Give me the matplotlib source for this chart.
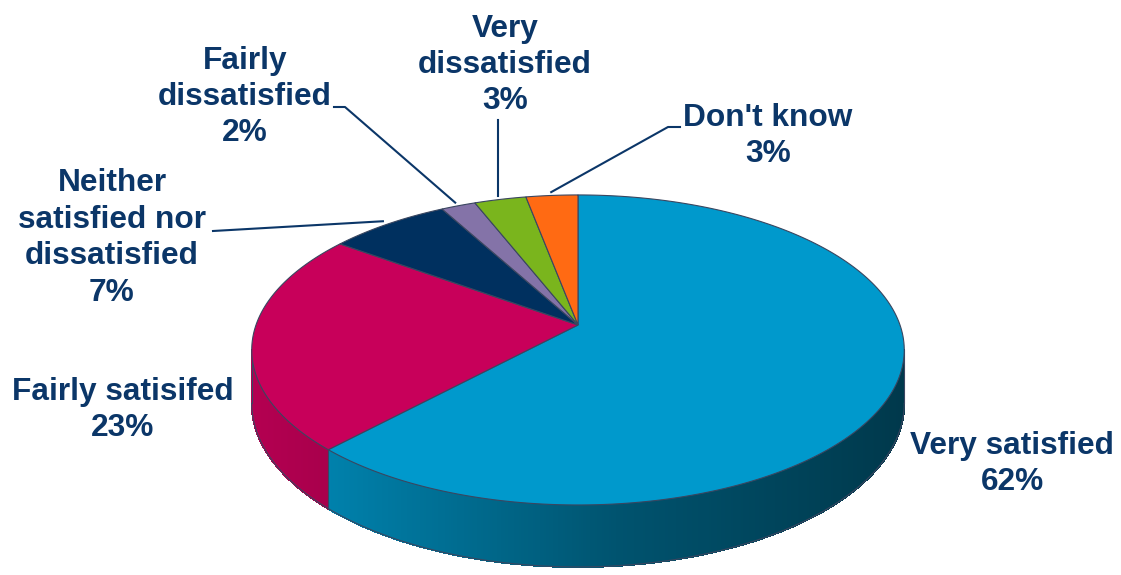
import numpy as np
import matplotlib.pyplot as plt
from matplotlib.patches import Polygon
from matplotlib.collections import PolyCollection
from matplotlib.colors import to_rgb

labels = ["Very satisfied", "Fairly satisifed", "Neither\nsatisfied nor\ndissatisfied",
          "Fairly\ndissatisfied", "Very\ndissatisfied", "Don't know"]
shares = [62, 23, 7, 2, 3, 3]
colors = ["#0099cc", "#c8005a", "#00305f", "#8473a8", "#7ab51d", "#ff6a13"]

# label block centres and the point where a leader line leaves the text
label_pos = [(1012, 464), (123, 410), (112, 238), (245, 97), (505, 65), (768, 136)]
leader_start = [None, None, [(213, 231)], [(334, 107), (345, 107)], "vertical",
                [(680, 127), (668, 127)]]

TEXT_COLOR = "#0b3668"
EDGE = "#3a4660"

# tilted disc drawn in pixel units with a little perspective
CX, CY = 578, 325
RX, RY = 322, 151
PERSP = 0.161
DEPTH = 52


def project(t, r=1.0):
    u = r * np.sin(t)
    v = r * np.cos(t)
    w = 1 + PERSP * v
    return CX + RX * u / w, CY - RY * v / w, w


def shade(c, x):
    f = np.interp(x, [250, 330, 620, 905], [0.9, 0.84, 0.54, 0.37])
    return tuple(np.array(to_rgb(c)) * f)


fig = plt.figure(figsize=(11.21, 5.75), dpi=100)
ax = fig.add_axes([0, 0, 1, 1])
ax.set_xlim(0, 1121)
ax.set_ylim(575, 0)
ax.axis("off")

bounds = np.concatenate([[0], np.cumsum(shares)]) / sum(shares) * 2 * np.pi
vis0 = np.arccos(-PERSP)
vis1 = 2 * np.pi - vis0

# side wall, split into thin strips so it can carry a shading gradient
quads, quad_cols = [], []
for i, c in enumerate(colors):
    a0, a1 = max(bounds[i], vis0), min(bounds[i + 1], vis1)
    if a1 <= a0:
        continue
    ts = np.linspace(a0, a1, max(int((a1 - a0) / 0.006), 2))
    x, y, w = project(ts)
    yb = y + DEPTH / w
    for j in range(len(ts) - 1):
        quads.append([(x[j], y[j]), (x[j + 1], y[j + 1]),
                      (x[j + 1], yb[j + 1]), (x[j], yb[j])])
        quad_cols.append(shade(c, (x[j] + x[j + 1]) / 2))
    ax.plot(x, yb, color=EDGE, lw=0.8, zorder=3)
ax.add_collection(PolyCollection(quads, facecolors=quad_cols, edgecolors=quad_cols,
                                 linewidths=0.8, antialiased=False, zorder=2))

ts = np.linspace(vis0, vis1, 400)
x, y, w = project(ts)
ax.plot([x[0], x[0]], [y[0], y[0] + DEPTH / w[0]], color=EDGE, lw=0.8, zorder=3)
ax.plot([x[-1], x[-1]], [y[-1], y[-1] + DEPTH / w[-1]], color=EDGE, lw=0.8, zorder=3)
for b in bounds[1:-1]:
    if vis0 < b < vis1:
        bx, by, bw = project(b)
        ax.plot([bx, bx], [by, by + DEPTH / bw], color=EDGE, lw=0.8, zorder=3)

# top face
for i, c in enumerate(colors):
    ts = np.linspace(bounds[i], bounds[i + 1], 200)
    x, y, _ = project(ts)
    pts = [(CX, CY)] + list(zip(x, y))
    ax.add_patch(Polygon(pts, closed=True, facecolor=c, edgecolor=EDGE, lw=0.8, zorder=4))

# labels and leader lines
for i, (lab, s) in enumerate(zip(labels, shares)):
    lx, ly = label_pos[i]
    ax.text(lx, ly, f"{lab}\n{s}%", ha="center", va="center", fontsize=22.8,
            fontweight="bold", color=TEXT_COLOR, family="Liberation Sans",
            linespacing=1.28)
    start = leader_start[i]
    if start is None:
        continue
    mid = (bounds[i] + bounds[i + 1]) / 2
    ex, ey, _ = project(mid, 1.03)
    if start == "vertical":
        pts = [(ex, 120), (ex, ey)]
    else:
        pts = start + [(ex, ey)]
    px, py = zip(*pts)
    ax.plot(px, py, color=TEXT_COLOR, lw=1.5)

fig.savefig("out.png", dpi=100)
